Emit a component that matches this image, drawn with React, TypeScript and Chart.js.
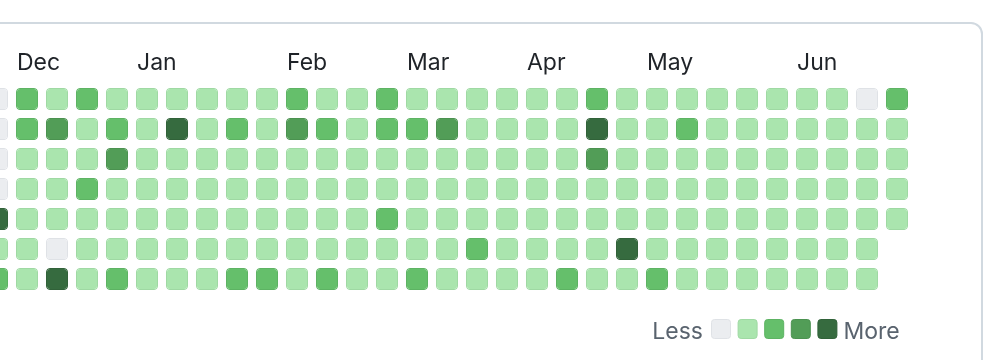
import React, { useEffect, useRef } from "react";
import { Chart, registerables } from "chart.js";

Chart.register(...registerables);

// Contribution levels (0 = none … 4 = most), one array per weekday row, 31 week columns.
const ROW_SUN = [0, 2, 1, 2, 1, 1, 1, 1, 1, 1, 2, 1, 1, 2, 1, 1, 1, 1, 1, 1, 2, 1, 1, 1, 1, 1, 1, 1, 1, 0, 2];
const ROW_MON = [0, 2, 3, 1, 2, 1, 4, 1, 2, 1, 3, 2, 1, 2, 2, 3, 1, 1, 1, 1, 4, 1, 1, 2, 1, 1, 1, 1, 1, 1, 1];
const ROW_TUE = [0, 1, 1, 1, 3, 1, 1, 1, 1, 1, 1, 1, 1, 1, 1, 1, 1, 1, 1, 1, 3, 1, 1, 1, 1, 1, 1, 1, 1, 1, 1];
const ROW_WED = [0, 1, 1, 2, 1, 1, 1, 1, 1, 1, 1, 1, 1, 1, 1, 1, 1, 1, 1, 1, 1, 1, 1, 1, 1, 1, 1, 1, 1, 1, 1];
const ROW_THU = [4, 1, 1, 1, 1, 1, 1, 1, 1, 1, 1, 1, 1, 2, 1, 1, 1, 1, 1, 1, 1, 1, 1, 1, 1, 1, 1, 1, 1, 1, 1];
const ROW_FRI = [1, 1, 0, 1, 1, 1, 1, 1, 1, 1, 1, 1, 1, 1, 1, 1, 2, 1, 1, 1, 1, 4, 1, 1, 1, 1, 1, 1, 1, 1, null];
const ROW_SAT = [2, 1, 4, 1, 2, 1, 1, 1, 2, 2, 1, 2, 1, 1, 2, 1, 1, 1, 1, 2, 1, 1, 2, 1, 1, 1, 1, 1, 1, 1, null];

const ROWS = [ROW_SUN, ROW_MON, ROW_TUE, ROW_WED, ROW_THU, ROW_FRI, ROW_SAT];
const ROW_NAMES = ["Sun", "Mon", "Tue", "Wed", "Thu", "Fri", "Sat"];

// Week columns and the month label shown above some of them.
const WEEK_COLUMNS = Array.from({ length: 31 }, (_, i) => `W${i + 1}`);
const MONTH_LABEL_COLUMNS = [1, 5, 10, 14, 18, 22, 27];
const MONTH_LABELS = ["Dec", "Jan", "Feb", "Mar", "Apr", "May", "Jun"];

const LEVEL_FILL = ["#ebedf0", "#aae5ae", "#65bf6b", "#529d57", "#366b3f"];
const LEVEL_EDGE = ["#dfe2e6", "#9fd9a3", "#5db363", "#4b9250", "#316239"];

const LEGEND_LESS = "Less";
const LEGEND_MORE = "More";

const FONT = "Inter, 'Noto Sans', sans-serif";
const CANVAS_SHIFT = 18; // canvas starts 18px left of the page edge
const CELL_INSET = 4 / 30;

const legendPlugin = {
  id: "contribLegend",
  afterDraw(chart: any) {
    const ctx = chart.ctx as CanvasRenderingContext2D;
    ctx.save();
    ctx.font = `23px ${FONT}`;
    ctx.fillStyle = "#59636e";
    ctx.textBaseline = "alphabetic";
    const baseY = 339;
    const boxStart = 711 + CANVAS_SHIFT;
    ctx.textAlign = "right";
    ctx.fillText(LEGEND_LESS, boxStart - 8, baseY);
    LEVEL_FILL.forEach((c, i) => {
      const x = boxStart + i * 26.6;
      ctx.beginPath();
      (ctx as any).roundRect(x + 0.5, 319.5, 19, 19, 3);
      ctx.fillStyle = c;
      ctx.fill();
      ctx.strokeStyle = LEVEL_EDGE[i];
      ctx.lineWidth = 1;
      ctx.stroke();
    });
    ctx.fillStyle = "#59636e";
    ctx.textAlign = "left";
    ctx.fillText(LEGEND_MORE, boxStart + 4 * 26.6 + 19 + 7, baseY);
    ctx.restore();
  },
};

export default function App() {
  const ref = useRef<HTMLCanvasElement>(null);

  useEffect(() => {
    if (!ref.current) return;
    const datasets = ROWS.map((row, r) => ({
      label: ROW_NAMES[r],
      data: row.map((lvl) => (lvl === null ? null : [r + CELL_INSET, r + 1 - CELL_INSET])),
      backgroundColor: row.map((lvl) => (lvl === null ? "transparent" : LEVEL_FILL[lvl])),
      borderColor: row.map((lvl) => (lvl === null ? "transparent" : LEVEL_EDGE[lvl])),
      borderWidth: 1,
      borderRadius: 4,
      borderSkipped: false,
      grouped: false,
      barPercentage: 22 / 30,
      categoryPercentage: 1,
    }));

    const chart = new Chart(ref.current, {
      type: "bar",
      data: { labels: WEEK_COLUMNS, datasets: datasets as any },
      options: {
        animation: false,
        responsive: false,
        maintainAspectRatio: false,
        events: [],
        layout: { padding: { left: 0, right: 76, top: 42.5, bottom: 66 } },
        plugins: { legend: { display: false }, tooltip: { enabled: false } },
        scales: {
          x: {
            position: "top",
            offset: true,
            grid: { display: false, drawTicks: false },
            border: { display: false },
            ticks: {
              autoSkip: false,
              maxRotation: 0,
              minRotation: 0,
              align: "start",
              labelOffset: -10,
              padding: 7,
              color: "#1f2328",
              font: { family: FONT, size: 23 },
              callback: (_v: any, i: number) => {
                const k = MONTH_LABEL_COLUMNS.indexOf(i);
                return k >= 0 ? MONTH_LABELS[k] : "";
              },
            },
          },
          y: { type: "linear", min: 0, max: 7, reverse: true, display: false },
        },
      },
      plugins: [legendPlugin],
    });
    return () => chart.destroy();
  }, []);

  return (
    <div style={{ position: "fixed", left: 0, top: 0, width: 988, height: 360, overflow: "hidden", background: "#fff" }}>
      <div
        style={{
          position: "absolute",
          left: -40,
          top: 22,
          width: 1023,
          height: 420,
          boxSizing: "border-box",
          border: "2px solid #d1d9e0",
          borderRadius: 12,
        }}
      />
      <div style={{ position: "absolute", left: -CANVAS_SHIFT, top: 0, width: 1006, height: 360 }}>
        <canvas ref={ref} width={1006} height={360} style={{ width: 1006, height: 360, display: "block" }} />
      </div>
    </div>
  );
}
